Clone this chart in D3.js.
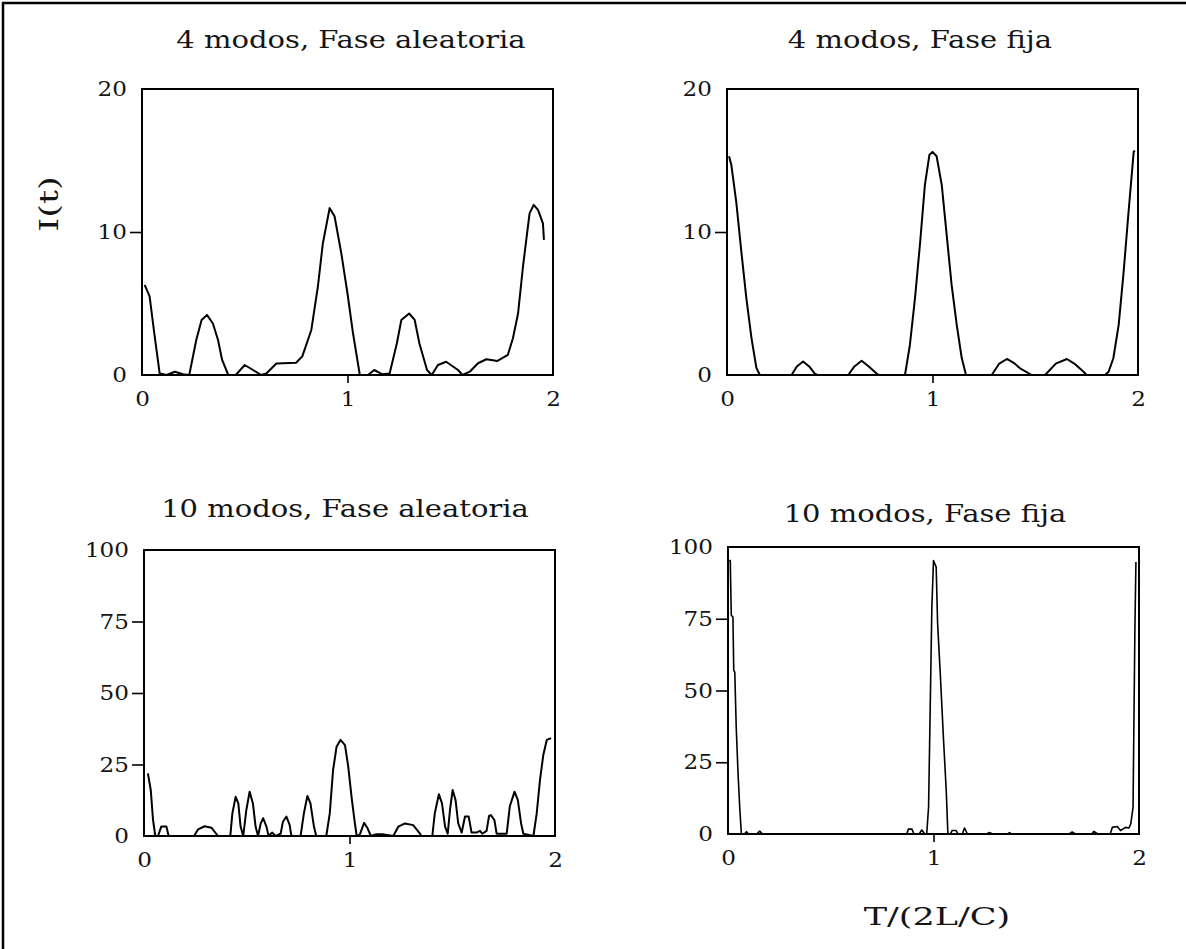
<!DOCTYPE html>
<html>
<head>
    <meta charset="utf-8">
    <title>modos</title>
    <script src="https://d3js.org/d3.v7.min.js"></script>
    <style>
        body { margin: 0px; background: #fff; }
        text { font-family: "DejaVu Serif", serif; fill: #151515; }
    </style>
</head>
<body>
<svg width="1186" height="949"></svg>
<script>

    // [T/(2L/C), I(t)]
    var modos4Aleatoria = [[0.013,6.3],[0.037,5.5],[0.06,2.9],[0.086,0.1],[0.12,0],[0.16,0.23],[0.2,0.05],[0.23,0],
        [0.264,2.45],[0.29,3.85],[0.316,4.2],[0.345,3.6],[0.37,2.45],[0.39,1.05],[0.42,0],[0.456,0],[0.5,0.7],
        [0.54,0.35],[0.58,0],[0.605,0.1],[0.654,0.8],[0.75,0.86],[0.78,1.3],[0.824,3.15],[0.856,6.2],[0.88,9.2],
        [0.913,11.67],[0.937,11.1],[0.97,8.5],[1.0,5.7],[1.027,2.9],[1.06,0],[1.1,0],[1.13,0.35],[1.17,0.05],
        [1.205,0.1],[1.24,2.2],[1.262,3.85],[1.3,4.3],[1.327,3.85],[1.35,2.2],[1.387,0.35],[1.41,0],[1.44,0.7],
        [1.48,0.93],[1.538,0.35],[1.56,0],[1.595,0.23],[1.635,0.82],[1.676,1.1],[1.73,0.98],[1.78,1.4],
        [1.805,2.57],[1.83,4.3],[1.854,7.6],[1.87,9.45],[1.886,11.3],[1.906,11.9],[1.927,11.55],[1.951,10.6],
        [1.956,9.45]];

    var modos4Fija = [[0.01,15.3],[0.021,14.7],[0.045,12.1],[0.07,8.6],[0.094,5.4],[0.119,2.6],[0.143,0.5],
        [0.16,0],[0.314,0],[0.34,0.6],[0.37,0.95],[0.4,0.6],[0.427,0.1],[0.44,0],[0.59,0],[0.62,0.6],[0.655,1.0],
        [0.69,0.6],[0.728,0.1],[0.74,0],[0.866,0],[0.89,2.1],[0.915,5.4],[0.94,9.3],[0.963,13.3],[0.985,15.4],
        [1.0,15.6],[1.02,15.3],[1.045,13.3],[1.069,9.8],[1.093,6.3],[1.118,3.5],[1.142,1.2],[1.163,0],[1.288,0],
        [1.325,0.8],[1.362,1.12],[1.395,0.85],[1.426,0.47],[1.483,0],[1.548,0],[1.6,0.8],[1.654,1.12],[1.69,0.8],
        [1.735,0.23],[1.75,0],[1.84,0],[1.857,0.23],[1.88,1.17],[1.906,3.5],[1.93,7.2],[1.954,11.4],
        [1.979,15.6],[1.984,15.7]];

    var modos10Aleatoria = [[0.019,21.9],[0.033,16],[0.044,5.6],[0.055,0],[0.068,0],[0.084,3.3],[0.109,3.3],
        [0.12,0],[0.243,0],[0.263,2.3],[0.295,3.4],[0.328,2.9],[0.36,0],[0.42,0],[0.43,7.9],[0.446,13.7],
        [0.459,11.4],[0.47,3.3],[0.483,0],[0.498,9.1],[0.514,15.5],[0.53,11.4],[0.543,3.3],[0.555,0],[0.568,4.4],
        [0.58,6.2],[0.596,3.3],[0.606,0],[0.624,1.2],[0.64,0],[0.665,0.8],[0.676,5],[0.693,6.8],[0.709,3.8],
        [0.717,0],[0.762,0],[0.778,7.9],[0.795,14],[0.81,11.4],[0.827,3.3],[0.838,0],[0.887,0],[0.904,7.9],
        [0.92,23],[0.937,31.2],[0.956,33.6],[0.978,31.8],[0.994,24.2],[1.01,13.7],[1.024,5.6],[1.035,0],
        [1.05,0.5],[1.071,4.6],[1.088,2.7],[1.104,0],[1.13,0.6],[1.16,0.6],[1.213,0],[1.238,3.3],[1.27,4.4],
        [1.31,3.8],[1.343,0.8],[1.35,0],[1.403,0],[1.415,7.9],[1.435,14.6],[1.45,11.4],[1.465,3.3],[1.478,0.8],
        [1.489,9.1],[1.502,16.1],[1.516,12.6],[1.529,4.4],[1.546,1.2],[1.562,6.8],[1.58,6.8],[1.594,1.2],
        [1.618,1.2],[1.635,1.8],[1.646,0.8],[1.667,1.8],[1.679,7],[1.688,7.3],[1.705,5.6],[1.716,0.8],
        [1.765,0.8],[1.78,10.3],[1.803,15.5],[1.819,12.6],[1.835,4.4],[1.846,0.8],[1.895,0],[1.911,7.9],
        [1.927,19.6],[1.943,28.3],[1.96,33.6],[1.981,34.2]];

    var modos10Fija = [[0.005,95.3],[0.011,95.3],[0.016,76.2],[0.024,75.6],[0.028,57],[0.033,56.4],[0.04,37.2],
        [0.049,20.9],[0.057,9.3],[0.065,0],[0.08,0],[0.09,0.8],[0.1,0],[0.14,0],[0.154,1],[0.168,0],[0.87,0],
        [0.878,1.7],[0.895,1.7],[0.905,0],[0.93,0],[0.943,1.4],[0.958,0],[0.967,0],[0.976,9.3],[0.984,44],
        [0.992,79],[1.0,95.3],[1.013,93],[1.02,73.3],[1.033,55.8],[1.049,32.6],[1.062,15.1],[1.07,0],[1.082,0],
        [1.09,1.2],[1.11,1.2],[1.12,0],[1.14,0],[1.151,2.1],[1.165,0],[1.26,0],[1.27,0.5],[1.29,0],[1.36,0],
        [1.37,0.5],[1.38,0],[1.66,0],[1.675,0.7],[1.69,0],[1.77,0],[1.78,0.9],[1.8,0],[1.86,0],[1.87,2.3],
        [1.894,2.6],[1.91,1.2],[1.935,2.3],[1.951,2.1],[1.96,3.5],[1.971,9.3],[1.976,44],[1.98,71],[1.985,94.8]];

    var titulos = ["4 modos, Fase aleatoria", "4 modos, Fase fija", "10 modos, Fase aleatoria", "10 modos, Fase fija"];
    var xTicks = [0, 1, 2];
    var yTicks4 = [0, 10, 20];
    var yTicks10 = [0, 25, 50, 75, 100];

    var svg = d3.select("svg");

    var panels = [
        {data: modos4Aleatoria, title: titulos[0], yTicks: yTicks4, box: [142, 553, 89, 375], tx: 351, ty: 48, lw: 2},
        {data: modos4Fija, title: titulos[1], yTicks: yTicks4, box: [727, 1138, 89, 375], tx: 920, ty: 48, lw: 2},
        {data: modos10Aleatoria, title: titulos[2], yTicks: yTicks10, box: [144, 555, 550, 836], tx: 345, ty: 517, lw: 2},
        {data: modos10Fija, title: titulos[3], yTicks: yTicks10, box: [728, 1139, 547, 834], tx: 925, ty: 522, lw: 1.6}
    ];

    // outer frame (top and left edges only are visible)
    svg.append("path")
        .attr("d", "M3,949V3H1186")
        .attr("fill", "none")
        .attr("stroke", "#000")
        .attr("stroke-width", 2.5);

    // the original lettering is wide; stretch text horizontally
    function stretch(sel, k){
        sel.each(function(){
            var w = this.getComputedTextLength();
            d3.select(this).attr("textLength", w * k).attr("lengthAdjust", "spacingAndGlyphs");
        });
    }

    panels.forEach(function (p){
        var x = d3.scaleLinear().domain([0, 2]).range([p.box[0], p.box[1]]),
            yMax = p.yTicks[p.yTicks.length - 1],
            y = d3.scaleLinear().domain([0, yMax]).range([p.box[3], p.box[2]]),
            g = svg.append("g");

        var yAxis = g.append("g")
            .attr("transform", "translate(" + p.box[0] + ",0)")
            .call(d3.axisLeft(y).tickValues(p.yTicks).tickFormat(d3.format("d"))
                .tickSizeInner(12).tickSizeOuter(0).tickPadding(3));
        yAxis.select(".domain").remove();
        yAxis.selectAll(".tick line")
            .attr("stroke", "#000").attr("stroke-width", 1.6)
            .style("display", function (d){ return (d === 0 || d === yMax) ? "none" : null; });
        yAxis.selectAll(".tick text")
            .attr("font-family", null).attr("fill", null)
            .style("font-size", "21px");

        var xAxis = g.append("g")
            .attr("transform", "translate(0," + p.box[3] + ")")
            .call(d3.axisBottom(x).tickValues(xTicks).tickFormat(d3.format("d"))
                .tickSizeInner(8).tickSizeOuter(0).tickPadding(8));
        xAxis.select(".domain").remove();
        xAxis.selectAll(".tick line")
            .attr("stroke", "#000").attr("stroke-width", 1.6)
            .style("display", function (d){ return d === 1 ? null : "none"; });
        xAxis.selectAll(".tick text")
            .attr("font-family", null).attr("fill", null)
            .style("font-size", "21px");

        stretch(yAxis.selectAll(".tick text"), 1.1);
        stretch(xAxis.selectAll(".tick text"), 1.1);

        g.append("path")
            .datum(p.data)
            .attr("fill", "none")
            .attr("stroke", "#000")
            .attr("stroke-width", p.lw)
            .attr("stroke-linejoin", "round")
            .attr("d", d3.line()
                .x(function (d){ return x(d[0]); })
                .y(function (d){ return y(d[1]); }));

        g.append("rect")
            .attr("x", p.box[0])
            .attr("y", p.box[2])
            .attr("width", p.box[1] - p.box[0])
            .attr("height", p.box[3] - p.box[2])
            .attr("fill", "none")
            .attr("stroke", "#000")
            .attr("stroke-width", 2);

        var t = g.append("text")
            .attr("x", p.tx)
            .attr("y", p.ty)
            .attr("text-anchor", "middle")
            .style("font-size", "25px")
            .text(p.title);
        stretch(t, 1.16);
    });

    var yl = svg.append("text")
        .attr("transform", "translate(58,204) rotate(-90)")
        .attr("text-anchor", "middle")
        .style("font-size", "26px")
        .text("I(t)");
    stretch(yl, 1.35);

    var xl = svg.append("text")
        .attr("x", 937)
        .attr("y", 925)
        .attr("text-anchor", "middle")
        .style("font-size", "25px")
        .text("T/(2L/C)");
    stretch(xl, 1.4);

</script>
</body>
</html>
